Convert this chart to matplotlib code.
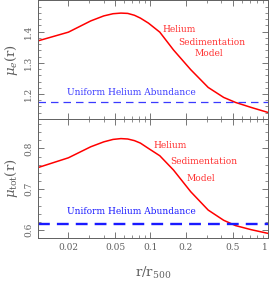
import numpy as np
import matplotlib
matplotlib.use("Agg")
from matplotlib import pyplot as plt
from matplotlib.ticker import FixedLocator, NullFormatter, MultipleLocator

# radius in units of r500
r = [0.011, 0.02, 0.031, 0.04, 0.048, 0.056, 0.064, 0.073, 0.082, 0.096,
     0.12, 0.157, 0.22, 0.31, 0.42, 0.53, 0.72, 1.0]
mu_e = [1.370, 1.398, 1.434, 1.450, 1.457, 1.459, 1.458, 1.452, 1.443, 1.427,
        1.398, 1.341, 1.278, 1.221, 1.189, 1.173, 1.157, 1.141]
mu_tot = [0.753, 0.777, 0.804, 0.816, 0.822, 0.824, 0.823, 0.819, 0.813,
          0.800, 0.782, 0.747, 0.694, 0.649, 0.624, 0.611, 0.601, 0.592]
mu_e_uniform = 1.175
mu_tot_uniform = 0.614

xticks = [0.02, 0.05, 0.1, 0.2, 0.5, 1]
xticklabels = ["0.02", "0.05", "0.1", "0.2", "0.5", "1"]

plt.rcParams['font.family'] = 'DejaVu Serif'
plt.rcParams['mathtext.fontset'] = 'dejavuserif'

grey = '#606060'

fig = plt.figure(figsize=(2.69, 2.85), dpi=100)
ax1 = fig.add_axes([0.141, 0.5825, 0.855, 0.4165])
ax2 = fig.add_axes([0.141, 0.164, 0.855, 0.4185])


def style(ax):
    ax.set_xscale('log')
    ax.set_xlim(0.011, 1.0)
    ax.tick_params(which='both', direction='in', top=True, right=True,
                   colors=grey, labelsize=6.5)
    ax.tick_params(which='major', length=4, width=0.6)
    ax.tick_params(which='minor', length=2, width=0.5)
    ax.xaxis.set_major_locator(FixedLocator(xticks))
    for s in ax.spines.values():
        s.set_color(grey)
        s.set_linewidth(0.7)
    for lab in ax.get_yticklabels():
        lab.set_rotation(90)
        lab.set_va('center')


# top panel: electron molecular weight
ax1.plot(r, mu_e, color='#ff0000', lw=1.1)
ax1.axhline(mu_e_uniform, color='#3a3aff', lw=0.9, dashes=(6, 4))
ax1.set_ylim(1.12, 1.5)
ax1.yaxis.set_major_locator(FixedLocator([1.2, 1.3, 1.4]))
ax1.yaxis.set_minor_locator(MultipleLocator(0.02))
style(ax1)
ax1.xaxis.set_major_formatter(NullFormatter())
ax1.xaxis.set_minor_formatter(NullFormatter())
ax1.set_ylabel(r'$\mu_e(\mathrm{r})$', fontsize=9.5, color=grey, labelpad=3)

ax1.text(0.613, 0.755, 'Helium', transform=ax1.transAxes, color='#ff3030',
         fontsize=6.5, ha='center', va='center')
ax1.text(0.757, 0.645, 'Sedimentation', transform=ax1.transAxes, color='#ff3030',
         fontsize=6.5, ha='center', va='center')
ax1.text(0.745, 0.55, 'Model', transform=ax1.transAxes, color='#ff3030',
         fontsize=6.5, ha='center', va='center')
ax1.text(0.405, 0.225, 'Uniform Helium Abundance', transform=ax1.transAxes,
         color='#3a3aff', fontsize=6.5, ha='center', va='center')

# bottom panel: total molecular weight
ax2.plot(r, mu_tot, color='#ff0000', lw=1.1)
ax2.axhline(mu_tot_uniform, color='#1a1aff', lw=1.7, dashes=(5, 3))
ax2.set_ylim(0.58, 0.872)
ax2.yaxis.set_major_locator(FixedLocator([0.6, 0.7, 0.8]))
ax2.yaxis.set_minor_locator(MultipleLocator(0.02))
style(ax2)
ax2.set_xticklabels(xticklabels)
ax2.get_xticklabels()[-1].set_ha('right')
ax2.xaxis.set_minor_formatter(NullFormatter())
ax2.set_ylabel(r'$\mu_{\mathrm{tot}}(\mathrm{r})$', fontsize=9.5, color=grey,
               labelpad=3)
ax2.set_xlabel(r'$\mathrm{r/r_{500}}$', fontsize=9.5, color=grey, labelpad=9)

ax2.text(0.575, 0.78, 'Helium', transform=ax2.transAxes, color='#ff3030',
         fontsize=6.5, ha='center', va='center')
ax2.text(0.72, 0.64, 'Sedimentation', transform=ax2.transAxes, color='#ff3030',
         fontsize=6.5, ha='center', va='center')
ax2.text(0.71, 0.505, 'Model', transform=ax2.transAxes, color='#ff3030',
         fontsize=6.5, ha='center', va='center')
ax2.text(0.405, 0.225, 'Uniform Helium Abundance', transform=ax2.transAxes,
         color='#1a1aff', fontsize=6.5, ha='center', va='center')

fig.savefig('out.png', dpi=100)
